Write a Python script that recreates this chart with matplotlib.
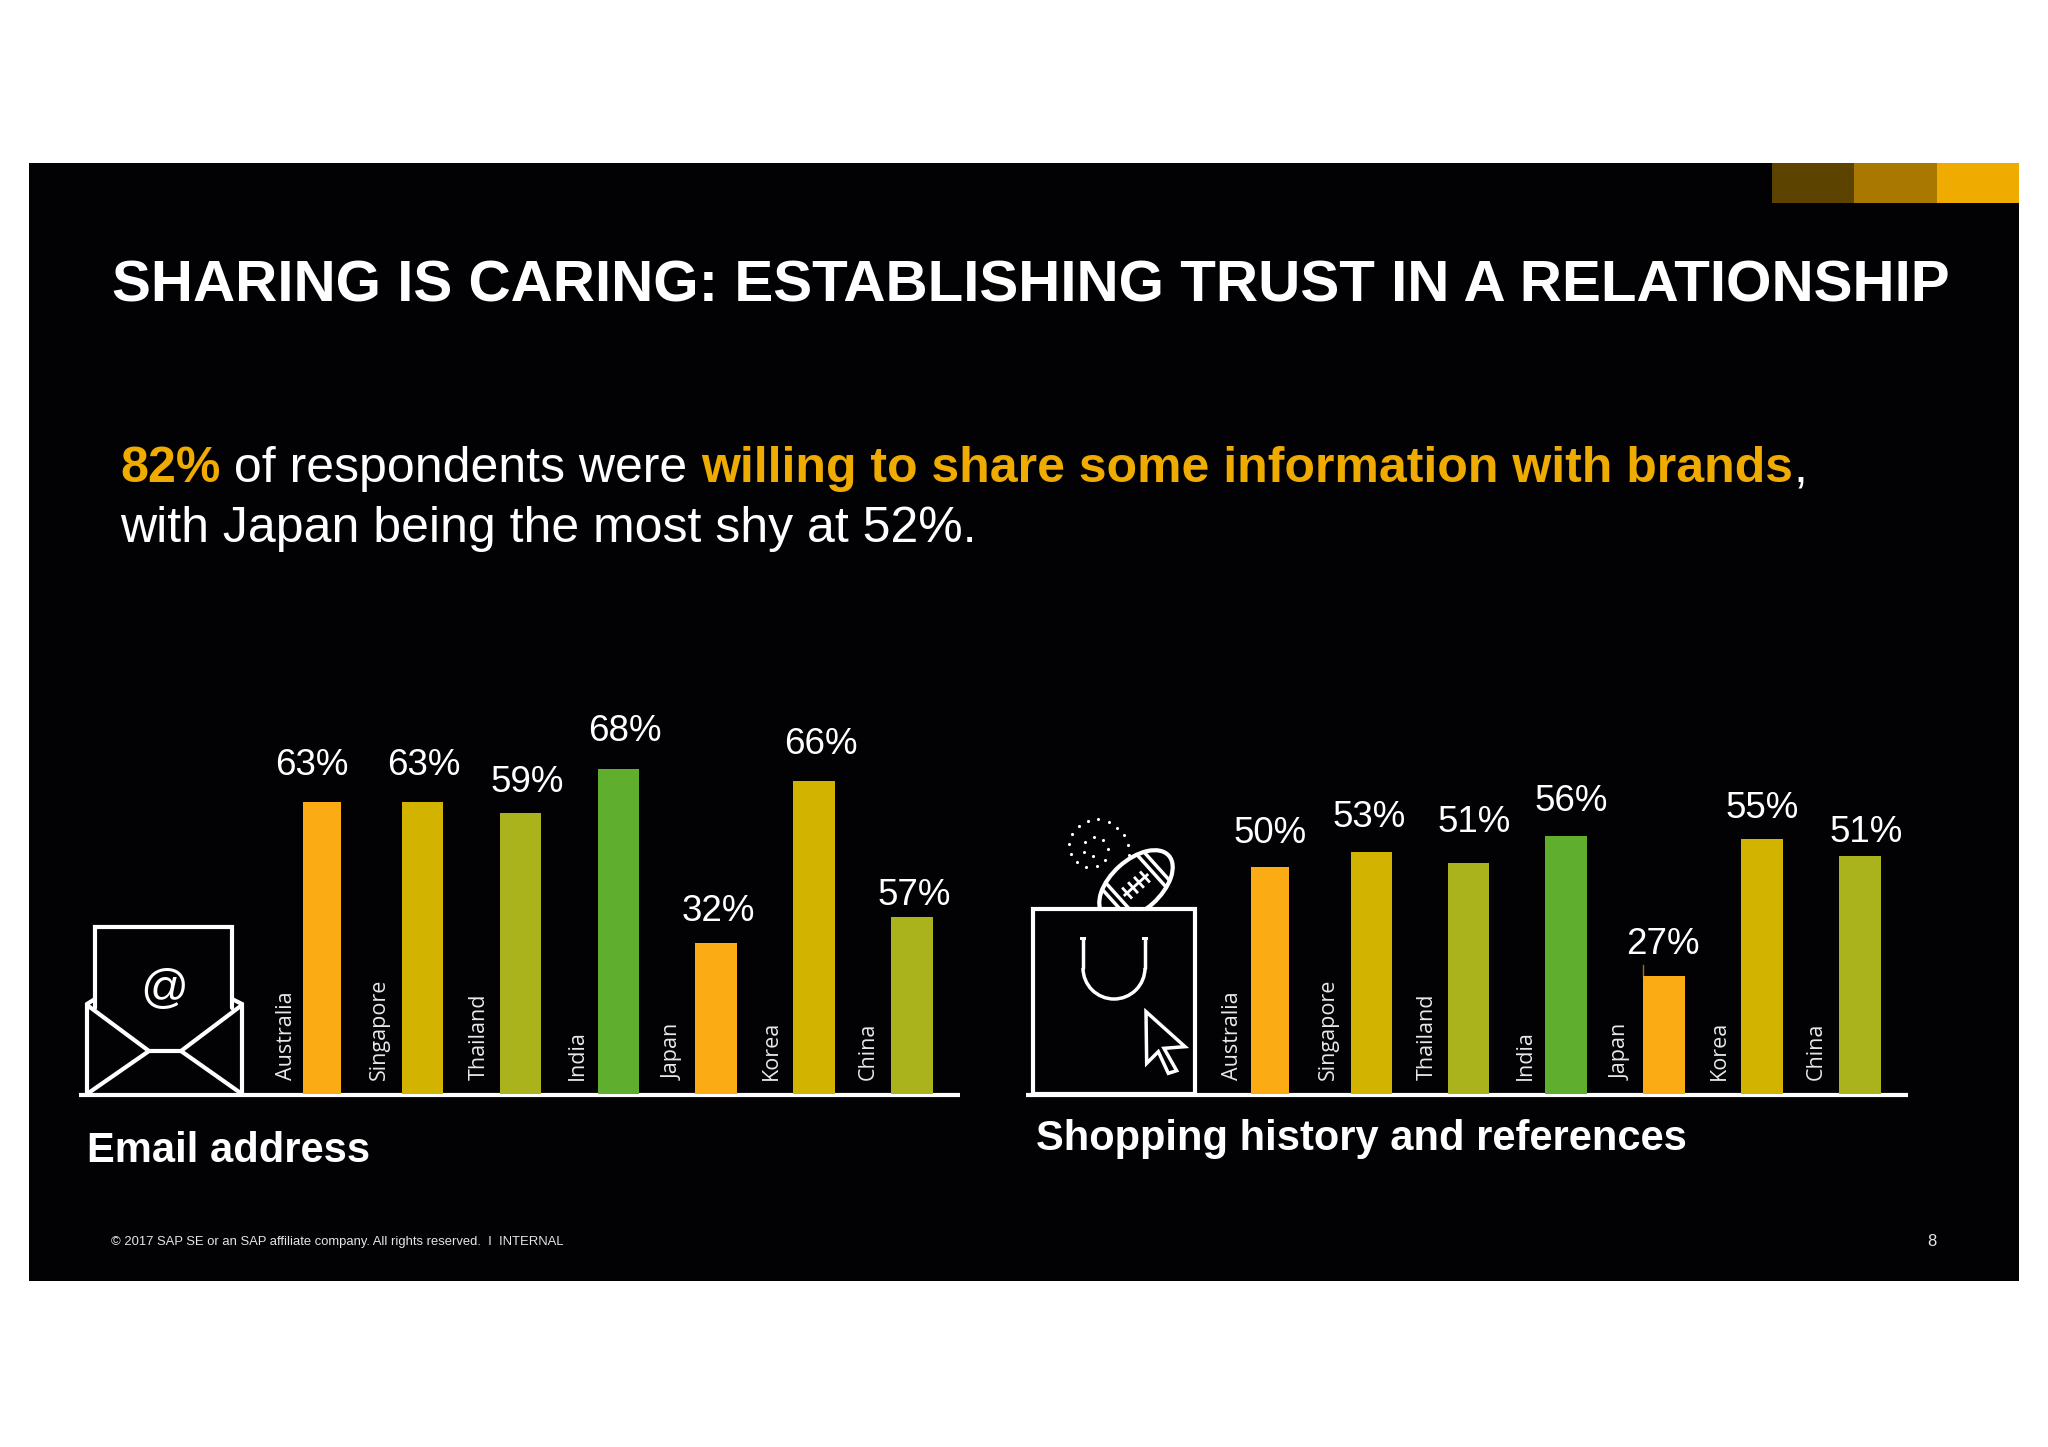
import numpy as np
import matplotlib
matplotlib.use("Agg")
import matplotlib.pyplot as plt
from matplotlib.patches import Ellipse, Polygon, Rectangle, Arc

W, H = 2048, 1447

countries = ["Australia", "Singapore", "Thailand", "India", "Japan", "Korea", "China"]
bar_colors = ["#fbab13", "#d1b300", "#abb31c", "#5fae2d", "#fbab13", "#d1b300", "#abb31c"]

# printed labels
email_labels = ["63%", "63%", "59%", "68%", "32%", "66%", "57%"]
shopping_labels = ["50%", "53%", "51%", "56%", "27%", "55%", "51%"]
# bar lengths as drawn in the picture, they do not quite follow the labels
email_bars = [63.0, 63.0, 60.6, 70.1, 32.6, 67.5, 38.2]
shopping_bars = [49.0, 52.2, 49.8, 55.7, 25.5, 55.0, 51.3]

WHITE = "#ffffff"
GOLD = "#f0ab00"
BLACK = "#020205"
SANS = "Liberation Sans"
PX_PER_PCT = 4.635

fig = plt.figure(figsize=(W / 100, H / 100), dpi=100, facecolor="white")
canvas = fig.add_axes([0, 0, 1, 1], zorder=1)
canvas.set_xlim(0, W)
canvas.set_ylim(H, 0)
canvas.axis("off")


def line(pts, lw=3.0, z=5):
    xs, ys = zip(*pts)
    canvas.plot(xs, ys, color=WHITE, lw=lw, solid_capstyle="round", solid_joinstyle="miter", zorder=z)


def write_runs(x, y, runs, size):
    # runs of text on one baseline, each one starts where the last one ended
    renderer = fig.canvas.get_renderer()
    for text, color, weight in runs:
        t = canvas.text(x, y, text, color=color, fontweight=weight, fontsize=size, family=SANS,
                        va="baseline", ha="left", zorder=6)
        ext = t.get_window_extent(renderer)
        if text.endswith(" "):
            probe = canvas.text(0, 0, text + "|", fontweight=weight, fontsize=size, family=SANS)
            bar = canvas.text(0, 0, "|", fontweight=weight, fontsize=size, family=SANS)
            x += probe.get_window_extent(renderer).width - bar.get_window_extent(renderer).width
            probe.remove()
            bar.remove()
        else:
            x += ext.width


def draw_chart(baseline, centers, widths, values, labels, label_x, label_y, name_x):
    ymax = 80
    ax = fig.add_axes([0, (H - baseline) / H, 1, ymax * PX_PER_PCT / H], zorder=2)
    ax.patch.set_alpha(0)
    ax.set_xlim(0, W)
    ax.set_ylim(0, ymax)
    ax.axis("off")
    ax.bar(centers, values, width=widths, color=bar_colors, linewidth=0)
    for lx, ly, lab in zip(label_x, label_y, labels):
        canvas.text(lx, ly, lab, color=WHITE, fontsize=26.5, family=SANS, ha="center", va="baseline", zorder=6)
    for nx, name in zip(name_x, countries):
        canvas.text(nx, baseline - 14, name, color="#e8e8e8", fontsize=15.5, family="Open Sans", rotation=90,
                    ha="center", va="bottom", zorder=6)


# slide background and corner strip
canvas.add_patch(Rectangle((29, 163), 1990, 1118, color=BLACK, lw=0, zorder=0))
for x0, x1, c in [(1772, 1854, "#5c4300"), (1854, 1937, "#a87800"), (1937, 2019, GOLD)]:
    canvas.add_patch(Rectangle((x0, 163), x1 - x0, 40, color=c, lw=0, zorder=1))

canvas.text(112, 302, "SHARING IS CARING: ESTABLISHING TRUST IN A RELATIONSHIP", color=WHITE,
            fontsize=42, fontweight="bold", family=SANS, va="baseline", ha="left")
write_runs(120, 482, [("82%", GOLD, "bold"), (" of respondents were ", WHITE, "normal"),
                      ("willing to share some information with brands", GOLD, "bold"),
                      (",", WHITE, "normal")], 36)
write_runs(120, 542, [("with Japan being the most shy at 52%.", WHITE, "normal")], 36)

draw_chart(1094, [321.5, 422.5, 520.5, 618, 716, 814, 911.5], [38, 41, 41, 41, 42, 42, 42],
           email_bars, email_labels,
           [311.5, 424, 527, 625, 718, 821, 914], [775, 775, 792, 741, 921, 754, 905],
           [286, 379.5, 479.5, 577, 673.5, 771.5, 868])
draw_chart(1094, [1269.5, 1371, 1468.5, 1566, 1664, 1762, 1860], [38, 41, 41, 42, 42, 42, 42],
           shopping_bars, shopping_labels,
           [1270.5, 1369, 1474, 1571, 1663, 1762, 1866], [843, 827, 832, 811, 954, 818, 842],
           [1233, 1328, 1427, 1525, 1621, 1719.5, 1816])
canvas.plot([1643, 1643], [965, 976], color="#a86e00", lw=1, zorder=3)

# axis lines
canvas.plot([79, 960], [1094.5, 1094.5], color=WHITE, lw=3, solid_capstyle="butt", zorder=5)
canvas.plot([1026, 1908], [1095, 1095], color=WHITE, lw=3, solid_capstyle="butt", zorder=5)

canvas.text(87, 1162, "Email address", color=WHITE, fontsize=30, fontweight="bold", family=SANS, va="baseline")
canvas.text(1036, 1150, "Shopping history and references", color=WHITE, fontsize=30, fontweight="bold",
            family=SANS, va="baseline")

canvas.text(111, 1245, "© 2017 SAP SE or an SAP affiliate company. All rights reserved.  I  INTERNAL", color="#e6e6e6",
            fontsize=9.4, family=SANS, va="baseline")
canvas.text(1937, 1246, "8", color="#e6e6e6", fontsize=12, family=SANS, va="baseline", ha="right")

# envelope icon
line([(95, 1008), (95, 927), (232, 927), (232, 1008)])
line([(87, 1094), (87, 1004), (95, 999)])
line([(242, 1094), (242, 1004), (232, 999)])
line([(87, 1005), (149, 1051), (181, 1051), (242, 1005)])
line([(87, 1094), (149, 1051)])
line([(181, 1051), (242, 1094)])
canvas.text(164, 990, "@", color=WHITE, fontsize=34, family=SANS, ha="center", va="center", zorder=6)

# bag icon
canvas.add_patch(Rectangle((1033, 909), 162, 185, fill=False, ec=WHITE, lw=3, zorder=5))
line([(1083, 939), (1083, 968)], lw=2.5)
line([(1145, 939), (1145, 968)], lw=2.5)
canvas.add_patch(Arc((1114, 968), 62, 62, theta1=0, theta2=180, ec=WHITE, lw=2.5, zorder=5))
canvas.add_patch(Rectangle((1080, 937), 6, 3, color=WHITE, lw=0, zorder=5))
canvas.add_patch(Rectangle((1142, 937), 6, 3, color=WHITE, lw=0, zorder=5))
cursor = np.array([(378, 635), (495, 740), (432, 745), (470, 812), (445, 820), (415, 755), (380, 790)], dtype=float)
cursor = cursor / 3 + [1020, 800]
canvas.add_patch(Polygon(cursor, closed=True, fill=False, ec=WHITE, lw=2.5, zorder=5))

# football, cut off by the top of the bag
clip = Rectangle((1000, 800), 300, 109, transform=canvas.transData)
ball = Ellipse((1136, 885), 88, 50, angle=-42, fill=False, ec=WHITE, lw=3, zorder=4)
canvas.add_patch(ball)
ball.set_clip_path(clip)
u = np.array([np.cos(np.radians(-42)), np.sin(np.radians(-42))])
v = np.array([-u[1], u[0]])
center = np.array([1136.0, 885.0])
for d, half in [(-28, 17), (-21, 20), (21, 20), (28, 17)]:
    a, b = center + u * d - v * half, center + u * d + v * half
    s = canvas.plot([a[0], b[0]], [a[1], b[1]], color=WHITE, lw=2.5, zorder=4)[0]
    s.set_clip_path(clip)
a, b = center - u * 15, center + u * 15
s = canvas.plot([a[0], b[0]], [a[1], b[1]], color=WHITE, lw=2, zorder=4)[0]
s.set_clip_path(clip)
for d in [-12, -4, 4, 12]:
    a, b = center + u * d - v * 6, center + u * d + v * 6
    s = canvas.plot([a[0], b[0]], [a[1], b[1]], color=WHITE, lw=2, zorder=4)[0]
    s.set_clip_path(clip)

dots = np.array([(235, 58), (205, 62), (176, 78), (155, 102), (148, 132), (153, 162), (172, 187), (199, 201),
                 (232, 197), (255, 179), (266, 66), (292, 84), (312, 106), (324, 136), (327, 166),
                 (221, 110), (194, 126), (192, 155), (219, 168), (250, 120), (263, 148)], dtype=float)
dots = dots / 3 + [1020, 800]
canvas.scatter(dots[:, 0], dots[:, 1], s=5, color=WHITE, linewidths=0, zorder=5)

fig.savefig("out.png", dpi=100, facecolor="white")
